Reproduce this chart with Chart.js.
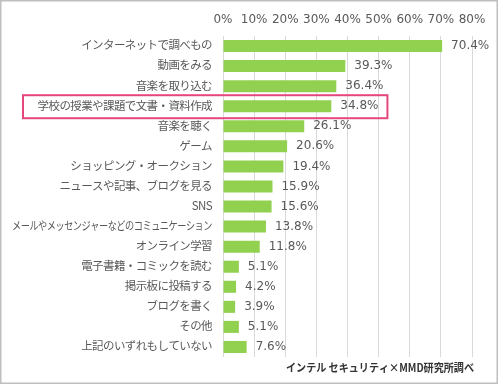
<!DOCTYPE html>
<html lang="ja">
<head>
<meta charset="utf-8">
<script src="https://cdn.jsdelivr.net/npm/chart.js@4"></script>
<style>
    html, body { margin: 0; padding: 0; background: #fff; }
    canvas { display: block; }
</style>
</head>
<body>
<canvas id="usageChart" width="500" height="385"></canvas>
<script>
// Chart data
const categories = [
    'インターネットで調べもの',
    '動画をみる',
    '音楽を取り込む',
    '学校の授業や課題で文書・資料作成',
    '音楽を聴く',
    'ゲーム',
    'ショッピング・オークション',
    'ニュースや記事、ブログを見る',
    'SNS',
    'メールやメッセンジャーなどのコミュニケーション',
    'オンライン学習',
    '電子書籍・コミックを読む',
    '掲示板に投稿する',
    'ブログを書く',
    'その他',
    '上記のいずれもしていない'
];
const values = [70.4, 39.3, 36.4, 34.8, 26.1, 20.6, 19.4, 15.9, 15.6, 13.8, 11.8, 5.1, 4.2, 3.9, 5.1, 7.6];
const xTicks = [0, 10, 20, 30, 40, 50, 60, 70, 80];
const highlightIndex = 3;
const sourceNote = 'インテル セキュリティ×MMD研究所調べ';

const textColor = '#595959';
const labelFont = '11.5px "Noto Sans CJK JP", sans-serif';
const numFont = '12px "DejaVu Sans", sans-serif';

// Category labels, value labels, highlight box, source and frame
const decorPlugin = {
    id: 'decor',
    afterDatasetsDraw(chart) {
        const ctx = chart.ctx;
        const ys = chart.scales.y;
        const left = chart.chartArea.left;

        ctx.save();
        // category labels
        ctx.font = labelFont;
        ctx.letterSpacing = '-0.6px';
        ctx.fillStyle = textColor;
        ctx.textAlign = 'right';
        ctx.textBaseline = 'middle';
        categories.forEach((c, i) => {
            const w = Math.min(ctx.measureText(c).width, 200);
            ctx.fillText(c, left - 11, ys.getPixelForValue(i) - 1, w);
        });
        ctx.letterSpacing = '0px';

        // value labels
        ctx.font = numFont;
        ctx.textAlign = 'left';
        const bars = chart.getDatasetMeta(0).data;
        bars.forEach((bar, i) => {
            ctx.fillText(values[i].toFixed(1) + '%', bar.x + 9, bar.y);
        });

        // highlight box
        const hb = bars[highlightIndex];
        const txtW = ctx.measureText(values[highlightIndex].toFixed(1) + '%').width;
        ctx.strokeStyle = '#e4477e';
        ctx.lineWidth = 2;
        ctx.strokeRect(23, hb.y - 11, hb.x + 9 + txtW + 9 - 23, 23);

        // source note
        ctx.font = 'bold 11px "Noto Sans CJK JP", sans-serif';
        ctx.fillStyle = '#333333';
        ctx.textAlign = 'right';
        const sw = Math.min(ctx.measureText(sourceNote).width, 188);
        ctx.fillText(sourceNote, 474, 368, sw);

        // outer frame
        ctx.strokeStyle = '#bfbfbf';
        ctx.lineWidth = 1.5;
        ctx.strokeRect(0.75, 0.75, 496.5, 382.5);
        ctx.restore();
    }
};

const ctx = document.getElementById('usageChart').getContext('2d');
const usageChart = new Chart(ctx, {
    type: 'bar',
    data: {
        labels: categories,
        datasets: [{
            data: values,
            backgroundColor: '#92d050',
            borderWidth: 0,
            barPercentage: 0.6,
            categoryPercentage: 1.0
        }]
    },
    options: {
        indexAxis: 'y',
        responsive: false,
        animation: false,
        layout: {
            padding: { top: 0, right: 28, bottom: 28, left: 0 }
        },
        plugins: {
            legend: { display: false },
            tooltip: { enabled: false }
        },
        scales: {
            x: {
                position: 'top',
                min: xTicks[0],
                max: xTicks[xTicks.length - 1],
                afterFit: scale => { scale.height = 36; },
                afterBuildTicks: scale => {
                    scale.ticks = xTicks.map(v => ({ value: v }));
                },
                ticks: {
                    color: textColor,
                    font: { family: '"DejaVu Sans", sans-serif', size: 12 },
                    padding: 9,
                    maxRotation: 0,
                    callback: v => v + '%'
                },
                grid: {
                    color: '#d9d9d9',
                    drawTicks: false
                },
                border: { display: false }
            },
            y: {
                afterFit: scale => { scale.width = 223; },
                ticks: { display: false },
                grid: { display: false },
                border: { display: false }
            }
        }
    },
    plugins: [decorPlugin]
});
</script>
</body>
</html>
